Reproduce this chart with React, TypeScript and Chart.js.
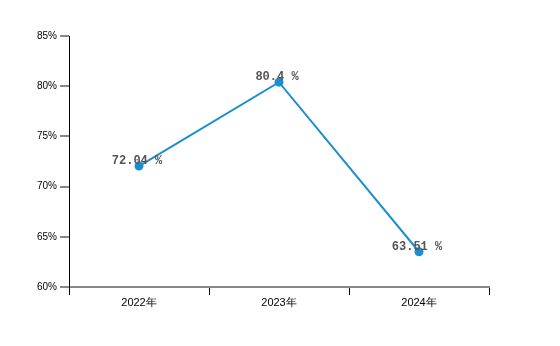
import React, { useEffect, useRef } from "react";
import { Chart, registerables } from "chart.js";

Chart.register(...registerables);

const categories = ["2022年", "2023年", "2024年"];
const values = [72.04, 80.4, 63.51];
const valueLabels = ["72.04 %", "80.4 %", "63.51 %"];
const yMin = 60;
const yMax = 85;
const yStep = 5;

const LINE_COLOR = "#1a8fd0";

const labelPlugin = {
  id: "pointLabels",
  afterDatasetsDraw(chart: any) {
    const ctx = chart.ctx;
    const meta = chart.getDatasetMeta(0);
    ctx.save();
    ctx.font = "bold 12px 'Liberation Mono', 'DejaVu Sans Mono', monospace";
    ctx.fillStyle = "#555555";
    ctx.textAlign = "center";
    ctx.textBaseline = "alphabetic";
    meta.data.forEach((pt: any, i: number) => {
      ctx.fillText(valueLabels[i], pt.x - 2, pt.y - 2);
    });
    ctx.restore();
  },
};

export default function App() {
  const ref = useRef<HTMLCanvasElement>(null);
  useEffect(() => {
    if (!ref.current) return;
    const chart = new Chart(ref.current, {
      type: "line",
      data: {
        labels: categories,
        datasets: [
          {
            data: values,
            borderColor: LINE_COLOR,
            backgroundColor: LINE_COLOR,
            borderWidth: 2,
            pointRadius: 3.5,
            pointBackgroundColor: LINE_COLOR,
            pointBorderColor: LINE_COLOR,
            tension: 0,
            fill: false,
          },
        ],
      },
      options: {
        responsive: false,
        animation: false,
        layout: { padding: { top: 36, right: 71, left: 0, bottom: 0 } },
        plugins: {
          legend: { display: false },
          tooltip: { enabled: false },
        },
        scales: {
          x: {
            type: "category",
            offset: true,
            grid: {
              offset: true,
              drawOnChartArea: false,
              drawTicks: true,
              tickLength: 8,
              color: "#000000",
              lineWidth: 1,
            },
            border: { display: true, color: "#888888", width: 2 },
            ticks: {
              color: "#000000",
              font: { family: "'Liberation Sans', Arial, sans-serif", size: 11 },
              padding: 1,
              maxRotation: 0,
            },
            afterFit(scale: any) {
              scale.height = 59;
            },
          },
          y: {
            min: yMin,
            max: yMax,
            grid: {
              drawOnChartArea: false,
              drawTicks: true,
              tickLength: 9,
              color: "#888888",
              lineWidth: 2,
            },
            border: { display: true, color: "#000000", width: 1 },
            ticks: {
              stepSize: yStep,
              color: "#000000",
              font: { family: "'Liberation Sans', Arial, sans-serif", size: 10 },
              padding: 3,
              callback: (v: any) => v + "%",
            },
            afterFit(scale: any) {
              scale.width = 69;
            },
          },
        },
      },
      plugins: [labelPlugin],
    });
    return () => chart.destroy();
  }, []);
  return (
    <div style={{ position: "absolute", left: 0, top: 0, width: 560, height: 346, background: "#fff" }}>
      <canvas ref={ref} width={560} height={346} />
    </div>
  );
}
